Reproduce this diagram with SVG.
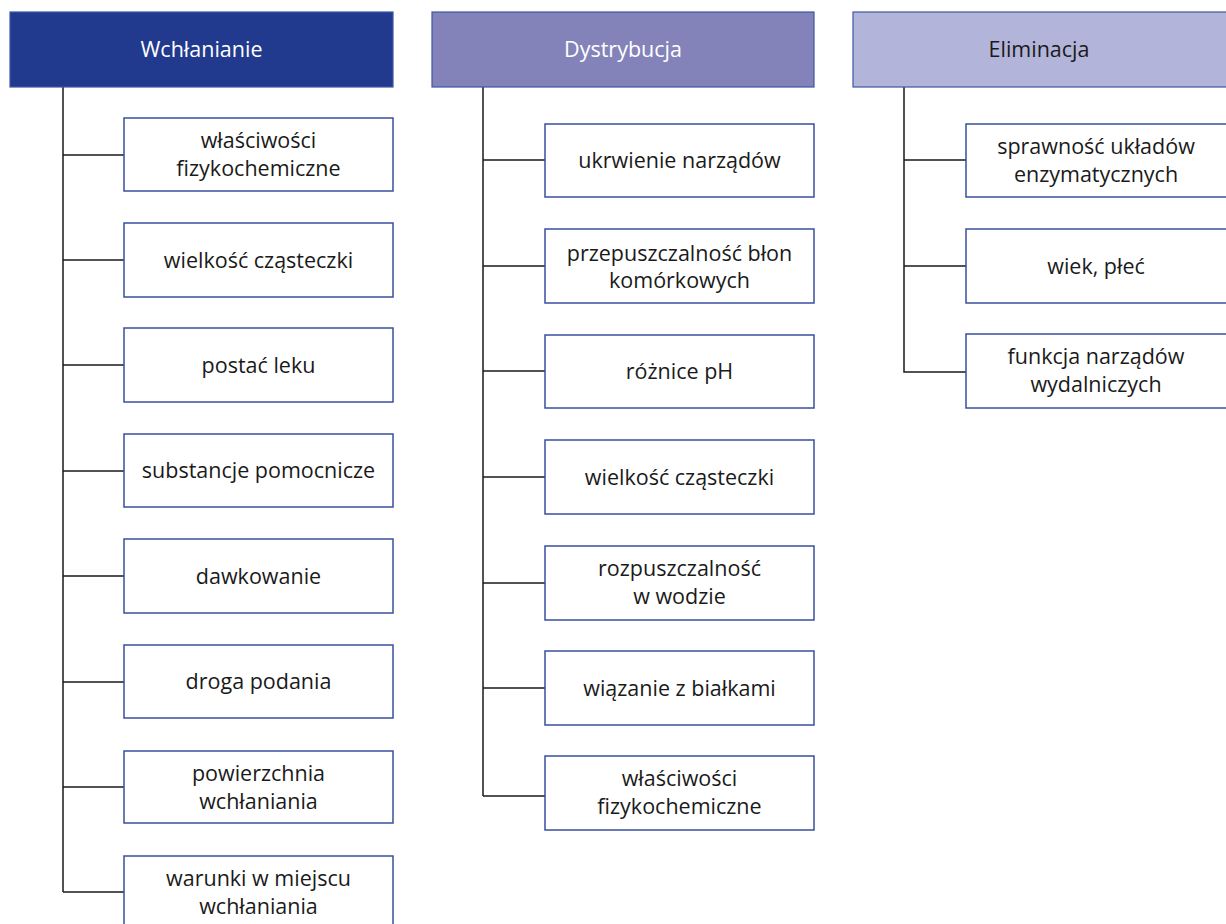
<svg xmlns="http://www.w3.org/2000/svg" width="1226" height="924" viewBox="0 0 1226 924">
<style>
text{font-family:"Open Sans","Noto Sans",sans-serif;font-size:21.5px;text-anchor:middle;fill:#1a1a1a}
.hd{stroke:#3f56a6;stroke-width:1.2}
.bx{fill:#fff;stroke:#3a4f9f;stroke-width:1.5}
.ln{fill:none;stroke:#1a1a1a;stroke-width:1.5}
</style>
<rect width="1226" height="924" fill="#fff"/>
<g id="connectors">
<path class="ln" d="M63 87V892M63 155H124M63 260H124M63 365H124M63 471H124M63 576H124M63 682H124M63 787H124M63 892H124"/>
<path class="ln" d="M483 87V796M483 160H545M483 266H545M483 371H545M483 477H545M483 583H545M483 688H545M483 796H545"/>
<path class="ln" d="M904 87V372H966M904 160H966M904 266H966"/>
</g>
<g id="h1"><rect class="hd" x="10" y="12" width="383" height="75" fill="#213a8e"/><text x="201.5" y="57" style="fill:#fff">Wchłanianie</text></g>
<g id="h2"><rect class="hd" x="432" y="12" width="382" height="75" fill="#8383b9"/><text x="623" y="57" style="fill:#fff">Dystrybucja</text></g>
<g id="h3"><rect class="hd" x="853" y="12" width="380" height="75" fill="#b3b4d9"/><text x="1039" y="57">Eliminacja</text></g>

<g id="a1"><rect class="bx" x="124" y="118" width="269" height="73"/><text x="258.5" y="148">właściwości</text><text x="258.5" y="176">fizykochemiczne</text></g>
<g id="a2"><rect class="bx" x="124" y="223" width="269" height="74"/><text x="258.5" y="268">wielkość cząsteczki</text></g>
<g id="a3"><rect class="bx" x="124" y="328" width="269" height="74"/><text x="258.5" y="373">postać leku</text></g>
<g id="a4"><rect class="bx" x="124" y="434" width="269" height="73"/><text x="258.5" y="478">substancje pomocnicze</text></g>
<g id="a5"><rect class="bx" x="124" y="539" width="269" height="74"/><text x="258.5" y="584">dawkowanie</text></g>
<g id="a6"><rect class="bx" x="124" y="645" width="269" height="73"/><text x="258.5" y="689">droga podania</text></g>
<g id="a7"><rect class="bx" x="124" y="751" width="269" height="72"/><text x="258.5" y="781">powierzchnia</text><text x="258.5" y="809">wchłaniania</text></g>
<g id="a8"><rect class="bx" x="124" y="856" width="269" height="74"/><text x="258.5" y="886">warunki w miejscu</text><text x="258.5" y="914">wchłaniania</text></g>

<g id="d1"><rect class="bx" x="545" y="124" width="269" height="73"/><text x="679.5" y="168">ukrwienie narządów</text></g>
<g id="d2"><rect class="bx" x="545" y="229" width="269" height="74"/><text x="679.5" y="261">przepuszczalność błon</text><text x="679.5" y="288">komórkowych</text></g>
<g id="d3"><rect class="bx" x="545" y="335" width="269" height="73"/><text x="679.5" y="379">różnice pH</text></g>
<g id="d4"><rect class="bx" x="545" y="440" width="269" height="74"/><text x="679.5" y="485">wielkość cząsteczki</text></g>
<g id="d5"><rect class="bx" x="545" y="546" width="269" height="74"/><text x="679.5" y="576">rozpuszczalność</text><text x="679.5" y="604">w wodzie</text></g>
<g id="d6"><rect class="bx" x="545" y="651" width="269" height="74"/><text x="679.5" y="696">wiązanie z białkami</text></g>
<g id="d7"><rect class="bx" x="545" y="756" width="269" height="74"/><text x="679.5" y="786">właściwości</text><text x="679.5" y="814">fizykochemiczne</text></g>

<g id="e1"><rect class="bx" x="966" y="124" width="270" height="73"/><text x="1096" y="154">sprawność układów</text><text x="1096" y="182">enzymatycznych</text></g>
<g id="e2"><rect class="bx" x="966" y="229" width="270" height="74"/><text x="1096" y="274">wiek, płeć</text></g>
<g id="e3"><rect class="bx" x="966" y="334" width="270" height="74"/><text x="1096" y="364">funkcja narządów</text><text x="1096" y="392">wydalniczych</text></g>
</svg>
